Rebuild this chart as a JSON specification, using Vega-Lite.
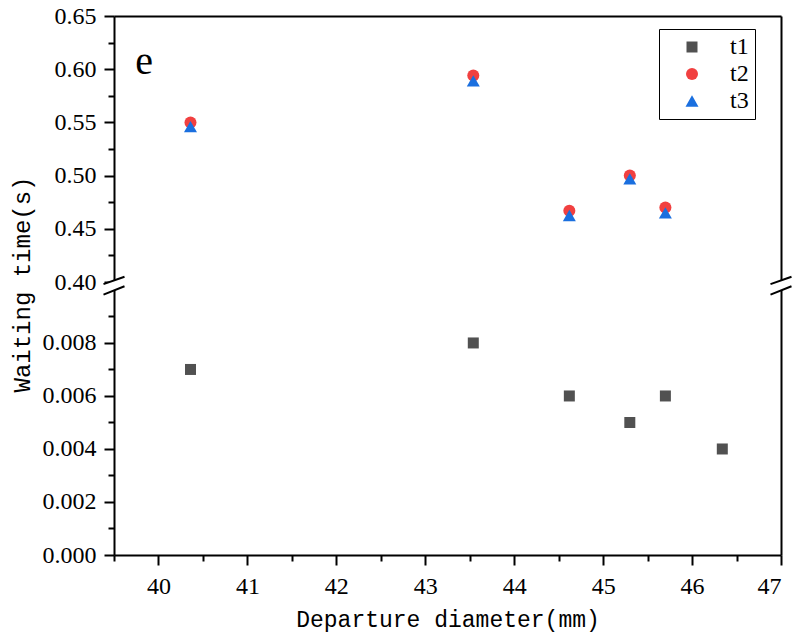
{
  "$schema": "https://vega.github.io/schema/vega-lite/v6.json",
  "padding": {"left": 10, "top": 4, "right": 5, "bottom": 5},
  "background": "white",
  "config": {
    "view": {"stroke": null},
    "axis": {
      "domainColor": "black", "domainWidth": 2, "tickColor": "black", "tickWidth": 2,
      "labelFont": "Liberation Serif", "labelFontSize": 24, "labelColor": "black",
      "titleFont": "Liberation Mono", "titleFontWeight": "normal", "titleColor": "black",
      "grid": false
    },
    "legend": {
      "labelFont": "Liberation Serif", "labelFontSize": 24, "labelColor": "black"
    }
  },
  "datasets": {
    "pts": [
      {"x": 40.36, "y": 0.007, "series": "t1"},
      {"x": 43.54, "y": 0.008, "series": "t1"},
      {"x": 44.62, "y": 0.006, "series": "t1"},
      {"x": 45.30, "y": 0.005, "series": "t1"},
      {"x": 45.70, "y": 0.006, "series": "t1"},
      {"x": 46.34, "y": 0.004, "series": "t1"},
      {"x": 40.36, "y": 0.550, "series": "t2"},
      {"x": 43.54, "y": 0.594, "series": "t2"},
      {"x": 44.62, "y": 0.467, "series": "t2"},
      {"x": 45.30, "y": 0.500, "series": "t2"},
      {"x": 45.70, "y": 0.470, "series": "t2"},
      {"x": 40.36, "y": 0.546, "series": "t3"},
      {"x": 43.54, "y": 0.589, "series": "t3"},
      {"x": 44.62, "y": 0.4625, "series": "t3"},
      {"x": 45.30, "y": 0.497, "series": "t3"},
      {"x": 45.70, "y": 0.465, "series": "t3"}
    ]
  },
  "spacing": 0,
  "bounds": "flush",
  "resolve": {"legend": {"color": "independent", "shape": "independent", "size": "independent"}},
  "vconcat": [
    {
      "width": 667, "height": 266,
      "layer": [
        {
          "data": {"name": "pts"},
          "transform": [{"filter": "datum.series !== 't1'"}],
          "mark": {"type": "point", "filled": true, "opacity": 1, "strokeWidth": 0},
          "encoding": {
            "x": {"field": "x", "type": "quantitative",
              "scale": {"domain": [39.5, 47], "nice": false, "zero": false},
              "axis": {"orient": "top", "labels": false, "ticks": false, "title": null}},
            "y": {"field": "y", "type": "quantitative",
              "scale": {"domain": [0.40, 0.65], "nice": false, "zero": false},
              "axis": {"orient": "left", "title": null,
                "values": [0.4, 0.425, 0.45, 0.475, 0.5, 0.525, 0.55, 0.575, 0.6, 0.625, 0.65],
                "labelExpr": "abs(datum.value*20 - round(datum.value*20)) < 0.001 ? format(datum.value, '.2f') : ''",
                "tickSize": {"condition": {"test": "abs(datum.value*20 - round(datum.value*20)) < 0.001", "value": 10}, "value": 6},
                "labelPadding": 8}},
            "color": {"field": "series", "type": "nominal",
              "scale": {"domain": ["t1", "t2", "t3"], "range": ["#515151", "#F14040", "#1A6FDF"]},
              "legend": {"orient": "none", "legendX": 545, "legendY": 13, "title": null,
                "strokeColor": "black", "padding": 6, "symbolOffset": 15, "labelOffset": 26,
                "rowPadding": 3, "symbolStrokeWidth": 0}},
            "shape": {"field": "series", "type": "nominal",
              "scale": {"domain": ["t1", "t2", "t3"], "range": ["square", "circle", "triangle-up"]}},
            "size": {"field": "series", "type": "nominal",
              "scale": {"domain": ["t1", "t2", "t3"], "range": [121, 169, 260]}}
          }
        },
        {
          "data": {"name": "pts"},
          "transform": [{"filter": "datum.series !== 't1'"}],
          "mark": {"type": "point", "opacity": 0},
          "encoding": {
            "x": {"field": "x", "type": "quantitative",
              "scale": {"domain": [39.5, 47], "nice": false, "zero": false},
              "axis": {"orient": "top", "labels": false, "ticks": false, "title": null}},
            "y": {"field": "y", "type": "quantitative",
              "scale": {"domain": [0.40, 0.65], "nice": false, "zero": false},
              "axis": {"orient": "right", "labels": false, "ticks": false, "title": null}}
          }
        },
        {
          "data": {"values": [{"label": "e"}]},
          "mark": {"type": "text", "font": "Liberation Serif", "fontSize": 40, "color": "black", "align": "center", "baseline": "middle"},
          "encoding": {
            "x": {"datum": 39.84, "type": "quantitative",
              "axis": {"orient": "top", "labels": false, "ticks": false, "title": null}},
            "y": {"datum": 0.607, "type": "quantitative", "axis": null},
            "text": {"field": "label"}
          }
        }
      ],
      "resolve": {"axis": {"y": "independent"}}
    },
    {
      "width": 667, "height": 273,
      "layer": [
        {
          "data": {"name": "pts"},
          "transform": [{"filter": "datum.series === 't1'"}],
          "mark": {"type": "point", "filled": true, "opacity": 1, "strokeWidth": 0},
          "encoding": {
            "x": {"field": "x", "type": "quantitative",
              "scale": {"domain": [39.5, 47], "nice": false, "zero": false},
              "axis": {"orient": "bottom", "title": "Departure diameter(mm)", "titleFontSize": 23,
                "values": [39.5, 40, 40.5, 41, 41.5, 42, 42.5, 43, 43.5, 44, 44.5, 45, 45.5, 46, 46.5, 47],
                "labelExpr": "datum.value % 1 == 0 ? format(datum.value, 'd') : ''",
                "tickSize": {"condition": {"test": "datum.value % 1 == 0", "value": 10}, "value": 6},
                "labelPadding": 9, "titlePadding": 10}},
            "y": {"field": "y", "type": "quantitative",
              "scale": {"domain": [0, 0.0103], "nice": false, "zero": false},
              "axis": {"orient": "left", "title": "Waiting time(s)", "titleFontSize": 24, "titleY": 2, "titlePadding": 8,
                "values": [0, 0.001, 0.002, 0.003, 0.004, 0.005, 0.006, 0.007, 0.008, 0.009],
                "labelExpr": "abs(datum.value*500 - round(datum.value*500)) < 0.001 ? format(datum.value, '.3f') : ''",
                "tickSize": {"condition": {"test": "abs(datum.value*500 - round(datum.value*500)) < 0.001", "value": 10}, "value": 6},
                "labelPadding": 8}},
            "color": {"field": "series", "type": "nominal",
              "scale": {"domain": ["t1", "t2", "t3"], "range": ["#515151", "#F14040", "#1A6FDF"]}, "legend": null},
            "shape": {"field": "series", "type": "nominal",
              "scale": {"domain": ["t1", "t2", "t3"], "range": ["square", "circle", "triangle-up"]}, "legend": null},
            "size": {"field": "series", "type": "nominal",
              "scale": {"domain": ["t1", "t2", "t3"], "range": [121, 169, 260]}, "legend": null}
          }
        },
        {
          "data": {"name": "pts"},
          "transform": [{"filter": "datum.series === 't1'"}],
          "mark": {"type": "point", "opacity": 0},
          "encoding": {
            "x": {"field": "x", "type": "quantitative",
              "scale": {"domain": [39.5, 47], "nice": false, "zero": false},
              "axis": {"orient": "bottom", "title": "Departure diameter(mm)", "titleFontSize": 23,
                "values": [39.5, 40, 40.5, 41, 41.5, 42, 42.5, 43, 43.5, 44, 44.5, 45, 45.5, 46, 46.5, 47],
                "labelExpr": "datum.value % 1 == 0 ? format(datum.value, 'd') : ''",
                "tickSize": {"condition": {"test": "datum.value % 1 == 0", "value": 10}, "value": 6},
                "labelPadding": 9, "titlePadding": 10}},
            "y": {"field": "y", "type": "quantitative",
              "scale": {"domain": [0, 0.0103], "nice": false, "zero": false},
              "axis": {"orient": "right", "labels": false, "ticks": false, "title": null}}
          }
        },
        {
          "data": {"values": [{"bx": 39.5}, {"bx": 47}]},
          "mark": {"type": "point", "shape": "M-1,0.2L1,-0.5L1,0.4L-1,1.2Z", "filled": true, "fill": "white", "strokeWidth": 0, "size": 441, "opacity": 1},
          "encoding": {
            "x": {"field": "bx", "type": "quantitative",
              "axis": {"orient": "bottom", "title": "Departure diameter(mm)", "titleFontSize": 23,
                "values": [39.5, 40, 40.5, 41, 41.5, 42, 42.5, 43, 43.5, 44, 44.5, 45, 45.5, 46, 46.5, 47],
                "labelExpr": "datum.value % 1 == 0 ? format(datum.value, 'd') : ''",
                "tickSize": {"condition": {"test": "datum.value % 1 == 0", "value": 10}, "value": 6},
                "labelPadding": 9, "titlePadding": 10}},
            "y": {"datum": 0.0103, "type": "quantitative", "axis": null}
          }
        },
        {
          "data": {"values": [{"bx": 39.5}, {"bx": 47}]},
          "mark": {"type": "point", "shape": "M-1,0.2L1,-0.5M-1,1.2L1,0.4", "filled": false, "stroke": "black", "strokeWidth": 2, "size": 441, "opacity": 1},
          "encoding": {
            "x": {"field": "bx", "type": "quantitative",
              "axis": {"orient": "bottom", "title": "Departure diameter(mm)", "titleFontSize": 23,
                "values": [39.5, 40, 40.5, 41, 41.5, 42, 42.5, 43, 43.5, 44, 44.5, 45, 45.5, 46, 46.5, 47],
                "labelExpr": "datum.value % 1 == 0 ? format(datum.value, 'd') : ''",
                "tickSize": {"condition": {"test": "datum.value % 1 == 0", "value": 10}, "value": 6},
                "labelPadding": 9, "titlePadding": 10}},
            "y": {"datum": 0.0103, "type": "quantitative", "axis": null}
          }
        }
      ],
      "resolve": {"axis": {"y": "independent"}}
    }
  ]
}
